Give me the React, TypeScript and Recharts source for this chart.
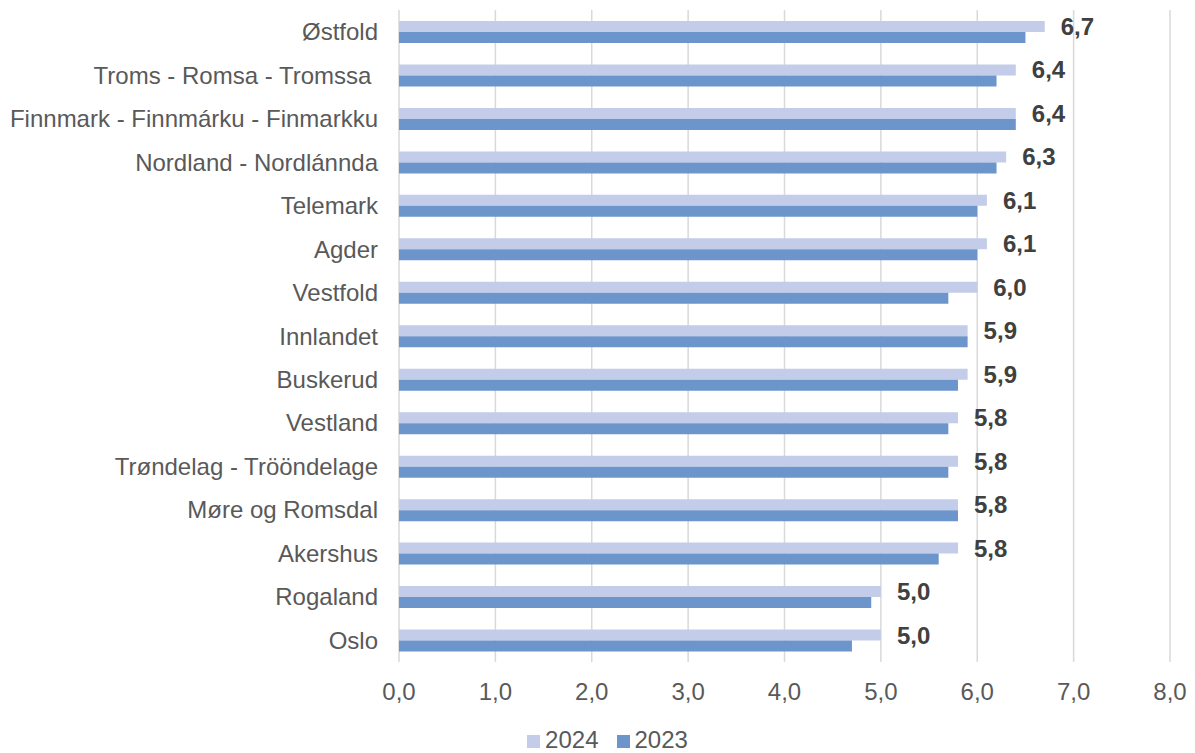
import { BarChart, Bar, XAxis, YAxis, CartesianGrid, Legend, LabelList } from "recharts"

// Fylker, sortert etter 2024-verdi
const regions = [
  "Østfold",
  "Troms - Romsa - Tromssa\u00a0",
  "Finnmark - Finnmárku - Finmarkku",
  "Nordland - Nordlánnda",
  "Telemark",
  "Agder",
  "Vestfold",
  "Innlandet",
  "Buskerud",
  "Vestland",
  "Trøndelag - Trööndelage",
  "Møre og Romsdal",
  "Akershus",
  "Rogaland",
  "Oslo",
]
const values2024 = [6.7, 6.4, 6.4, 6.3, 6.1, 6.1, 6.0, 5.9, 5.9, 5.8, 5.8, 5.8, 5.8, 5.0, 5.0]
const values2023 = [6.5, 6.2, 6.4, 6.2, 6.0, 6.0, 5.7, 5.9, 5.8, 5.7, 5.7, 5.8, 5.6, 4.9, 4.7]
const xTicks = [0, 1, 2, 3, 4, 5, 6, 7, 8]

const LIGHT = "#c3cce9"
const DARK = "#6c95cb"
const FONT = "'Liberation Sans', Arial, sans-serif"

const data = regions.map((name, i) => ({
  name,
  y2024: values2024[i],
  y2023: values2023[i],
}))

const fmt = (v: number) => v.toFixed(1).replace(".", ",")

function LegendBox() {
  const items = [
    { label: "2024", color: LIGHT },
    { label: "2023", color: DARK },
  ]
  return (
    <div style={{ display: "flex", justifyContent: "center", alignItems: "flex-end", gap: 18, paddingLeft: 20 }}>
      {items.map((it) => (
        <div key={it.label} style={{ display: "flex", alignItems: "flex-end", gap: 5 }}>
          <span style={{ width: 13, height: 13, background: it.color, display: "inline-block", marginBottom: 4 }} />
          <span style={{ fontSize: 24, color: "#595959", fontFamily: FONT, lineHeight: "24px" }}>{it.label}</span>
        </div>
      ))}
    </div>
  )
}

export default function App() {
  return (
    <div style={{ position: "absolute", left: 0, top: 0, width: 1195, height: 753, background: "#fff" }}>
      <BarChart
        width={1195}
        height={753}
        data={data}
        layout="vertical"
        margin={{ top: 10, right: 25, left: 0, bottom: 0 }}
        barGap={0}
      >
        <CartesianGrid horizontal={false} stroke="#d9d9d9" strokeWidth={1.5} />
        <XAxis
          type="number"
          domain={[0, 8]}
          ticks={xTicks}
          tickFormatter={fmt}
          axisLine={false}
          tickLine={false}
          tickSize={0}
          tickMargin={21}
          height={91}
          tick={{ fontSize: 24, fill: "#595959", fontFamily: FONT }}
        />
        <YAxis
          type="category"
          dataKey="name"
          width={399}
          axisLine={false}
          tickLine={false}
          tickSize={0}
          tickMargin={21}
          interval={0}
          tick={{ fontSize: 24, fill: "#595959", fontFamily: FONT }}
        />
        <Legend
          layout="horizontal"
          verticalAlign="middle"
          wrapperStyle={{ top: 728, left: 0, width: 1195 }}
          content={() => <LegendBox />}
        />
        <Bar dataKey="y2024" name="2024" fill={LIGHT} barSize={11} isAnimationActive={false}>
          <LabelList
            dataKey="y2024"
            position="right"
            offset={16}
            formatter={(v: any) => fmt(Number(v))}
            style={{ fontSize: 24, fontWeight: "bold", fill: "#404040", fontFamily: FONT }}
          />
        </Bar>
        <Bar dataKey="y2023" name="2023" fill={DARK} barSize={11} isAnimationActive={false} />
      </BarChart>
    </div>
  )
}
